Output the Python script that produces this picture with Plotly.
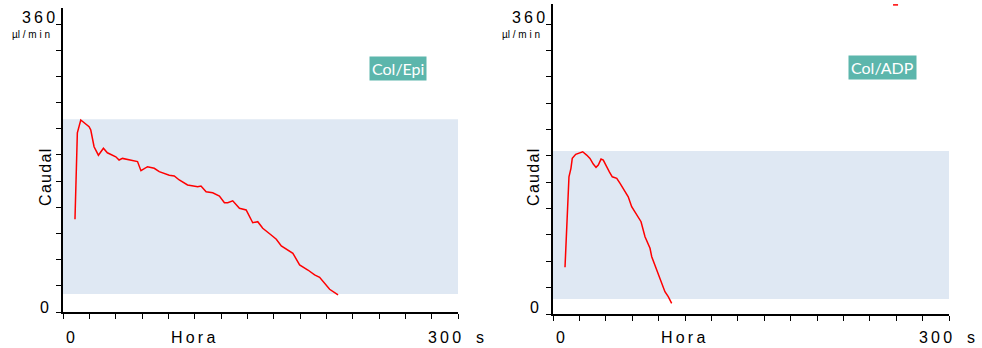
import plotly.graph_objects as go

# ---- data ----
epi_t = [9.1, 10.9, 13.5, 19.8, 21.1, 23.6, 26.9, 28.7, 30.7, 33.7, 40.1, 42.6, 45.2, 56.6, 59.2,
         64.2, 69.3, 73.1, 80.7, 84.5, 88.3, 94.6, 102.3, 104.8, 108.7, 113.7, 118.8, 122.6, 125.1,
         128.9, 134.0, 139.1, 144.1, 147.9, 151.7, 158.1, 162.0, 165.8, 169.6, 174.6, 179.7, 186.0,
         191.1, 194.9, 202.5, 208.9]
epi_v = [116, 224, 240, 231.6, 227.5, 206.6, 196, 200.4, 204.6, 199, 194, 190, 192, 188, 176.6,
         181.6, 179.6, 175.4, 171, 170, 165, 158.8, 156.6, 157.5, 150.4, 149, 145, 136.6, 136.6,
         139, 129.6, 127.5, 111.6, 112.9, 104.6, 96.3, 90.9, 82.5, 78.4, 73.4, 58.8, 52.5,
         46.3, 43.4, 28.4, 21.3]

adp_t = [9.1, 10.8, 12.1, 13.6, 14.6, 17.2, 19.7, 22.5, 25.5, 28.0, 30.5, 32.6, 34.3, 36.4, 38.1,
         40.7, 42.7, 44.9, 48.3, 50.8, 54.5, 57.0, 59.6, 63.4, 66.7, 69.7, 73.5, 74.8, 78.6, 81.8,
         84.8, 87.3, 89.9]
adp_v = [58, 112.6, 170.4, 180.9, 193.3, 198.3, 199.5, 201.5, 197.4, 193.3, 186.2, 182.1, 185,
         192.4, 191.2, 182.1, 176.6, 170.4, 168.5, 162.3, 151.8, 145.6, 133.2, 124.1, 114.6, 96,
         81.6, 71.1, 54.6, 42.2, 27.7, 21.5, 13.3]

# stray off-scale segment at top of right panel
adp_top_t = [257.6, 261.4]
adp_top_v = [383.9, 383.9]

epi_band = [22.5, 241]
adp_band = [18.6, 202.5]
x_range = [0, 300]
panel_labels = ["Col/Epi", "Col/ADP"]
y_ticks = [i * 360 / 11 for i in range(12)]
x_ticks = list(range(0, 301, 20))

W, H = 982, 348
def px(x):
    return x / W
def py(y):
    return 1 - y / H

RED = "#ff0000"
BAND = "#dfe8f3"
TEAL = "#5cb6ac"
FONT = "Liberation Sans, Arial, sans-serif"

fig = go.Figure()
fig.add_trace(go.Scatter(x=epi_t, y=epi_v, mode="lines", line=dict(color=RED, width=1.5),
                         xaxis="x", yaxis="y", showlegend=False))
fig.add_trace(go.Scatter(x=adp_t, y=adp_v, mode="lines", line=dict(color=RED, width=1.5),
                         xaxis="x2", yaxis="y2", showlegend=False))
fig.add_trace(go.Scatter(x=adp_top_t, y=adp_top_v, mode="lines", line=dict(color=RED, width=1.5),
                         xaxis="x2", yaxis="y2", showlegend=False, cliponaxis=False))

shapes = [
    dict(type="rect", xref="x", yref="y", x0=x_range[0], x1=x_range[1], y0=epi_band[0], y1=epi_band[1],
         fillcolor=BAND, line=dict(width=0), layer="below"),
    dict(type="rect", xref="x2", yref="y2", x0=x_range[0], x1=x_range[1], y0=adp_band[0], y1=adp_band[1],
         fillcolor=BAND, line=dict(width=0), layer="below"),
]

def xaxis_cfg(dom, anchor):
    return dict(domain=dom, range=x_range, anchor=anchor, showline=True, linecolor="black", linewidth=1.5,
                ticks="outside", ticklen=5, tickwidth=1.2, tickcolor="black", tickvals=x_ticks,
                showticklabels=False, showgrid=False, zeroline=False, fixedrange=True)

def yaxis_cfg(dom, rng, anchor):
    return dict(domain=dom, range=rng, anchor=anchor, showline=True, linecolor="black", linewidth=1.5,
                ticks="outside", ticklen=5, tickwidth=1.2, tickcolor="black", tickvals=y_ticks,
                showticklabels=False, showgrid=False, zeroline=False, fixedrange=True)

ann = []
panels = [
    dict(ax0=63, ax1=458, xr="x", yr="y", caudal_x=45, box=(397.7, 68.8)),
    dict(ax0=553, ax1=949, xr="x2", yr="y2", caudal_x=533, box=(882, 67.8)),
]
ts = "\u2009"
for i, p in enumerate(panels):
    a0, a1 = p["ax0"], p["ax1"]
    # y labels
    ann.append(dict(text="3" + ts + "6" + ts + "0", xref="paper", yref="paper", x=px(a0 - 6), y=py(18),
                    xanchor="right", yanchor="middle", showarrow=False,
                    font=dict(family=FONT, size=16, color="black")))
    ann.append(dict(text="µl / m i n", xref="paper", yref="paper", x=px(a0 - 11), y=py(34),
                    xanchor="right", yanchor="middle", showarrow=False,
                    font=dict(family=FONT, size=10, color="black")))
    ann.append(dict(text="0", xref="paper", yref="paper", x=px(a0 - 12), y=py(307),
                    xanchor="right", yanchor="middle", showarrow=False,
                    font=dict(family=FONT, size=16, color="black")))
    ann.append(dict(text="C\u200aa\u200au\u200ad\u200aa\u200al", xref="paper", yref="paper", x=px(p["caudal_x"]), y=py(178),
                    xanchor="center", yanchor="middle", textangle=-90, showarrow=False,
                    font=dict(family=FONT, size=16, color="black")))
    # x labels
    ann.append(dict(text="0", xref="paper", yref="paper", x=px(a0 + 1), y=py(337),
                    xanchor="left", yanchor="middle", showarrow=False,
                    font=dict(family=FONT, size=16, color="black")))
    ann.append(dict(text="H" + ts + "o" + ts + "r" + ts + "a", xref="paper", yref="paper", x=px(a0 + 106), y=py(337),
                    xanchor="left", yanchor="middle", showarrow=False,
                    font=dict(family=FONT, size=16, color="black")))
    ann.append(dict(text="3" + ts + "0" + ts + "0", xref="paper", yref="paper", x=px(a1 + 5), y=py(337),
                    xanchor="right", yanchor="middle", showarrow=False,
                    font=dict(family=FONT, size=16, color="black")))
    ann.append(dict(text="s", xref="paper", yref="paper", x=px(a1 + 22), y=py(337),
                    xanchor="center", yanchor="middle", showarrow=False,
                    font=dict(family=FONT, size=16, color="black")))
    # teal label box
    bx, by = p["box"]
    ann.append(dict(text=panel_labels[i], xref="paper", yref="paper", x=px(bx), y=py(by),
                    xanchor="center", yanchor="middle", showarrow=False, bgcolor=TEAL, borderpad=2,
                    font=dict(family="Lato, Open Sans, sans-serif", size=16, color="white")))

fig.update_layout(
    width=W, height=H, margin=dict(l=0, r=0, t=0, b=0),
    paper_bgcolor="white", plot_bgcolor="white",
    xaxis=xaxis_cfg([px(63), px(458)], "y"),
    yaxis=yaxis_cfg([py(312), py(8)], [0, 380], "x"),
    xaxis2=xaxis_cfg([px(553), px(949)], "y2"),
    yaxis2=yaxis_cfg([py(314), py(4)], [0, 385], "x2"),
    shapes=shapes, annotations=ann, showlegend=False,
)

fig.write_html("out.html", config={"displayModeBar": False})
